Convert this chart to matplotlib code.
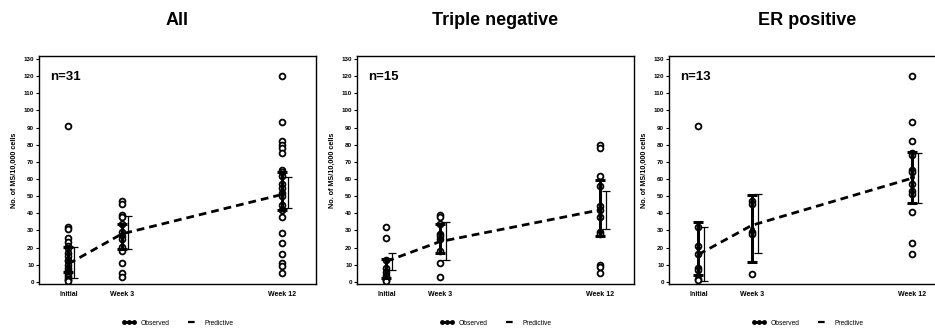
import matplotlib.pyplot as plt
from matplotlib.lines import Line2D

plt.rcParams['font.family'] = ['Liberation Sans', 'DejaVu Sans']

# Time points (weeks) and labels
weeks = [0, 3, 12]
week_labels = ['Initial', 'Week 3', 'Week 12']

titles = ['All', 'Triple negative', 'ER positive']
n_labels = ['n=31', 'n=15', 'n=13']

# Individual observations per panel: [initial, week 3, week 12]
all_pts = [
    [91, 32, 31, 25.5, 23, 21, 20, 17, 15, 13, 12, 10, 8, 7, 6, 5, 4, 3, 2, 1, 0.5],
    [47, 45.5, 39, 38, 33.5, 29, 27, 25, 20.5, 18, 11, 5, 3],
    [120, 93, 82, 80, 78, 75, 65, 64, 62, 57, 55, 52, 50, 45, 42, 38, 28.5, 22.5, 16, 11, 9.5, 5],
]
tn_pts = [
    [32, 25.5, 13, 8, 6, 4, 3, 2, 1, 0.5],
    [39, 38, 34, 28, 27, 25, 18, 11, 3],
    [80, 78, 62, 56, 44, 42, 38, 29, 28, 10, 9, 5],
]
er_pts = [
    [91, 32, 21, 16, 8, 7, 2, 1],
    [47, 45.5, 29, 28, 4.5],
    [120, 93, 82, 75, 74, 65, 64, 57, 53, 51, 41, 22.5, 16],
]
points = [all_pts, tn_pts, er_pts]

# Observed mean and interval (thick bars)
obs_mean = [[13, 27, 53], [7, 25, 43], [20, 31, 61]]
obs_lo = [[5.6, 19, 42], [2.5, 17, 26.5], [4.3, 11.5, 46]]
obs_hi = [[20.5, 33.8, 64], [13.2, 33.8, 59.5], [35, 50.5, 76]]

# Predictive mean and interval (thin bars, dashed line)
pred_mean = [[10.5, 28, 51], [12, 23.5, 42], [16, 33, 60.5]]
pred_lo = [[2.3, 19, 43], [7, 12.8, 30.7], [0.8, 17, 45.9]]
pred_hi = [[20.2, 38.5, 61], [16.7, 35.2, 53.3], [32, 51.5, 75.4]]

fig = plt.figure(figsize=(9.35, 3.31), dpi=100)
lefts = [39 / 935, 357 / 935, 669 / 935]
w = 277 / 935
bottom = 1 - 284 / 331
h = (284 - 56) / 331
offset = 0.32

for i in range(3):
    ax = fig.add_axes([lefts[i], bottom, w, h])
    for j, wk in enumerate(weeks):
        ax.plot([wk] * len(points[i][j]), points[i][j], 'o', mfc='white', mec='black',
                ms=4.2, mew=1.3, zorder=3)
    # observed
    lo = [m - l for m, l in zip(obs_mean[i], obs_lo[i])]
    hi = [u - m for m, u in zip(obs_mean[i], obs_hi[i])]
    ax.errorbar(weeks, obs_mean[i], yerr=[lo, hi], fmt='o', color='black', ms=2.5,
                elinewidth=2.2, capsize=3.5, capthick=2.2, zorder=4)
    # predictive
    px = [wk + offset for wk in weeks]
    lo = [m - l for m, l in zip(pred_mean[i], pred_lo[i])]
    hi = [u - m for m, u in zip(pred_mean[i], pred_hi[i])]
    ax.errorbar(px, pred_mean[i], yerr=[lo, hi], fmt='none', ecolor='black',
                elinewidth=0.9, capsize=3, capthick=0.9, zorder=4)
    ax.plot(weeks, pred_mean[i], color='black', lw=2, dashes=(2.8, 1.8), zorder=5)

    ax.set_xlim(-1.65, 13.9)
    ax.set_ylim(-1.2, 131.7)
    ax.set_yticks(range(0, 131, 10))
    ax.set_xticks(weeks)
    ax.set_xticklabels(week_labels)
    ax.tick_params(axis='y', labelsize=4.5, length=2.5, width=0.8, pad=1)
    ax.tick_params(axis='x', labelsize=5, length=0, pad=5)
    for lab in ax.get_xticklabels() + ax.get_yticklabels():
        lab.set_fontweight('bold')
    for sp in ax.spines.values():
        sp.set_linewidth(1.0)
    ax.set_ylabel('No. of MS/10,000 cells', fontsize=5.2, fontweight='bold', labelpad=4)
    ax.text(0.04, 0.91, n_labels[i], transform=ax.transAxes, fontsize=9.5,
            fontweight='bold', va='center')
    ax.set_title(titles[i], fontsize=13, fontweight='bold', pad=22)

    handles = [Line2D([], [], color='black', lw=2, marker='o', ms=2.5),
               Line2D([], [], color='black', lw=1.6, dashes=(3, 2))]
    ax.legend(handles, ['Observed', 'Predictive'], loc='upper center',
              bbox_to_anchor=(0.5, -0.13), ncol=2, frameon=False, fontsize=4.8,
              numpoints=3, handlelength=2.2, columnspacing=2.5, handletextpad=0.6)

fig.savefig('out.png', dpi=100)
